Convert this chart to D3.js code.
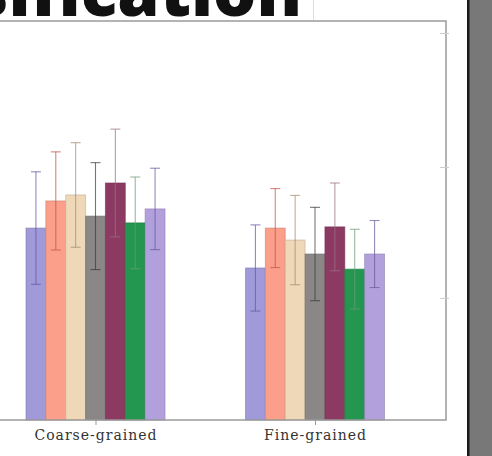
<!DOCTYPE html>
<html><head><meta charset="utf-8">
<script src="https://cdn.jsdelivr.net/npm/d3@7"></script>
<style>html,body{margin:0;padding:0;background:#fff;overflow:hidden}</style>
</head><body>
<svg id="c" width="492" height="456"></svg>
<script>
const titleText = "Classification";
const groups = ["Coarse-grained", "Fine-grained"];
const seriesNames = ["s1","s2","s3","s4","s5","s6","s7"];
const coarseMean = [48.1, 54.9, 56.4, 51.1, 59.4, 49.4, 52.9];
const coarseErr  = [14.1, 12.3, 13.1, 13.4, 13.5, 11.5, 10.2];
const fineMean   = [38.1, 48.1, 45.1, 41.6, 48.4, 37.8, 41.6];
const fineErr    = [10.8, 9.9, 11.2, 11.7, 11.0, 10.0, 8.4];
const rightTicks = [30.6, 63.4, 97];
const barColors  = ["#a09ad8","#fb9f8a","#eed8b8","#8b8787","#8d3a62","#23974f","#b1a0dc"];
const errColors  = ["#5f5aa8","#c2544a","#a08c72","#3a3a3a","#9a7088","#6a9a78","#6a5a9a"];

const svg = d3.select("#c");
const W = 492, H = 456;
const plot = {right: 446, top: 21, bottom: 420};

// title (cropped at top as in the reference)
svg.append("text").attr("x", 302).attr("y", 16).attr("text-anchor","end")
  .attr("font-family","'Open Sans', sans-serif").attr("font-weight", 800)
  .attr("font-size", 68).attr("fill","#111").text(titleText);
svg.append("line").attr("x1",313.5).attr("x2",313.5).attr("y1",0).attr("y2",20)
  .attr("stroke","#ddd").attr("stroke-width",1);

// dark strip at right
svg.append("rect").attr("x",467).attr("y",0).attr("width",25).attr("height",H).attr("fill","#787878");
svg.append("rect").attr("x",467).attr("y",0).attr("width",2.5).attr("height",H).attr("fill","#1a1a1a");

const y = d3.scaleLinear().domain([0, 100]).range([plot.bottom, plot.top]);
const gx = d3.scalePoint().domain(groups).range([95.5, 315]);
const x1 = d3.scaleBand().domain(seriesNames).range([-69.5, 69.5]).padding(0);

const data = [
  {g: groups[0], mean: coarseMean, err: coarseErr},
  {g: groups[1], mean: fineMean, err: fineErr}
];

const g = svg.append("g");
data.forEach(d => {
  const gg = g.append("g").attr("transform", `translate(${gx(d.g)},0)`);
  seriesNames.forEach((s, i) => {
    gg.append("rect")
      .attr("x", x1(s)).attr("width", x1.bandwidth())
      .attr("y", y(d.mean[i])).attr("height", y(0) - y(d.mean[i]))
      .attr("fill", barColors[i]).attr("stroke", d3.color(barColors[i]).darker(0.6))
      .attr("stroke-opacity", 0.6).attr("stroke-width", 1);
  });
  seriesNames.forEach((s, i) => {
    const cx = x1(s) + x1.bandwidth()/2;
    const hi = y(d.mean[i] + d.err[i]), lo = y(d.mean[i] - d.err[i]);
    const eg = gg.append("g").attr("stroke", errColors[i]).attr("stroke-opacity", 0.7).attr("stroke-width", 1.1);
    eg.append("line").attr("x1",cx).attr("x2",cx).attr("y1",hi).attr("y2",lo);
    eg.append("line").attr("x1",cx-5).attr("x2",cx+5).attr("y1",hi).attr("y2",hi);
    eg.append("line").attr("x1",cx-5).attr("x2",cx+5).attr("y1",lo).attr("y2",lo);
  });
});

// frame
svg.append("path")
  .attr("d", `M0,${plot.top}H${plot.right}V${plot.bottom}H0`)
  .attr("fill","none").attr("stroke","#9a9a9a").attr("stroke-width",1.5);

// right faint ticks
const ra = d3.axisRight(y).tickValues(rightTicks).tickSize(9).tickFormat("");
const rg = svg.append("g").attr("transform", `translate(${plot.right-6},0)`).call(ra);
rg.select(".domain").remove();
rg.selectAll("line").attr("stroke","#ccc");

// x axis
const xa = d3.axisBottom(gx).tickSize(5).tickPadding(5);
const xg = svg.append("g").attr("transform", `translate(0,${plot.bottom})`).call(xa);
xg.select(".domain").remove();
xg.selectAll("line").attr("stroke","#999");
xg.selectAll("text").attr("font-family","'DejaVu Serif', serif").attr("font-size",14)
  .attr("letter-spacing", 1).attr("fill","#333");
</script>
</body></html>
